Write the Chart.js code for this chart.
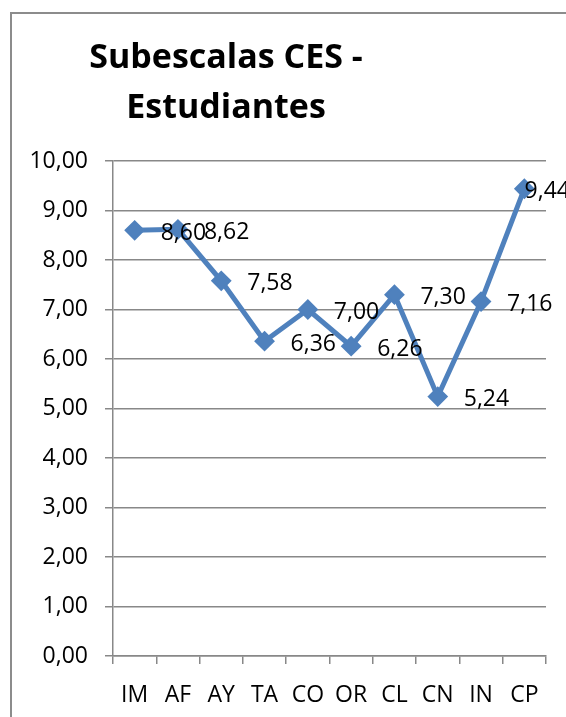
<!DOCTYPE html>
<html><head><meta charset="utf-8">
<script src="https://cdn.jsdelivr.net/npm/chart.js@4"></script>
<style>
html,body{margin:0;padding:0;background:#fff;overflow:hidden;width:566px;height:717px}
#c{position:absolute;left:0;top:0}
</style></head><body>
<canvas id="c" width="566" height="717"></canvas>
<script>
const titleLines = ['Subescalas CES -', 'Estudiantes'];
const categories = ['IM', 'AF', 'AY', 'TA', 'CO', 'OR', 'CL', 'CN', 'IN', 'CP'];
const values = [8.60, 8.62, 7.58, 6.36, 7.00, 6.26, 7.30, 5.24, 7.16, 9.44];
const yMin = 0, yMax = 10, yStep = 1;

const fmt = v => Number(v).toFixed(2).replace('.', ',');
const FONT = '"Open Sans", sans-serif';
const GRID = '#888888';

const framePlugin = {
  id: 'frame',
  beforeDraw(chart) {
    const ctx = chart.ctx;
    ctx.save();
    ctx.fillStyle = '#fff';
    ctx.fillRect(0, 0, chart.width, chart.height);
    ctx.strokeStyle = '#8c8c8c';
    ctx.lineWidth = 2;
    ctx.beginPath();
    ctx.moveTo(11, chart.height + 2);
    ctx.lineTo(11, 13);
    ctx.lineTo(chart.width + 2, 13);
    ctx.stroke();
    ctx.restore();
  }
};

const titlePlugin = {
  id: 'fixedTitle',
  afterDraw(chart) {
    const ctx = chart.ctx;
    ctx.save();
    ctx.font = 'bold 34px ' + FONT;
    ctx.fillStyle = '#000';
    ctx.textAlign = 'center';
    ctx.textBaseline = 'alphabetic';
    ctx.fillText(titleLines[0], 226, 68);
    ctx.fillText(titleLines[1], 226, 118);
    ctx.restore();
  }
};

const labelPlugin = {
  id: 'pointLabels',
  afterDatasetsDraw(chart) {
    const ctx = chart.ctx;
    const meta = chart.getDatasetMeta(0);
    ctx.save();
    ctx.font = '23px ' + FONT;
    ctx.fillStyle = '#000';
    ctx.textAlign = 'left';
    ctx.textBaseline = 'middle';
    meta.data.forEach((pt, i) => {
      const txt = fmt(values[i]);
      const w = ctx.measureText(txt).width;
      const x = Math.min(pt.x + 26, chart.width + 4 - w);
      ctx.fillText(txt, x, pt.y + 3);
    });
    ctx.restore();
  }
};

function build() {
  new Chart(document.getElementById('c'), {
    type: 'line',
    data: {
      labels: categories,
      datasets: [{
        data: values,
        borderColor: '#4F81BD',
        backgroundColor: '#4F81BD',
        borderWidth: 5,
        pointStyle: 'rectRot',
        pointRadius: 9,
        pointBorderWidth: 2,
        pointBorderColor: '#4F81BD',
        pointBackgroundColor: '#4F81BD',
        tension: 0,
        clip: false
      }]
    },
    options: {
      responsive: false,
      animation: false,
      devicePixelRatio: 1,
      layout: { padding: { top: 161, right: 20, left: 0, bottom: 0 } },
      plugins: { legend: { display: false }, title: { display: false }, tooltip: { enabled: false } },
      scales: {
        x: {
          offset: true,
          grid: { display: true, drawOnChartArea: false, drawTicks: true, tickLength: 8, color: GRID, lineWidth: 1.5, offset: true },
          border: { display: true, color: GRID, width: 1.5 },
          ticks: { color: '#000', font: { family: FONT, size: 23 }, padding: 18, maxRotation: 0, autoSkip: false },
          afterFit(s) { s.height = 61; }
        },
        y: {
          min: yMin, max: yMax,
          grid: { color: GRID, lineWidth: 1.5, tickLength: 8 },
          border: { display: true, color: GRID, width: 1.5 },
          ticks: { stepSize: yStep, color: '#000', font: { family: FONT, size: 23 }, padding: 17, callback: v => fmt(v) },
          afterFit(s) { s.width = 113; }
        }
      }
    },
    plugins: [framePlugin, labelPlugin, titlePlugin]
  });
}
Promise.all([
  document.fonts.load('23px "Open Sans"'),
  document.fonts.load('bold 34px "Open Sans"')
]).then(build, build);
</script>
</body></html>
